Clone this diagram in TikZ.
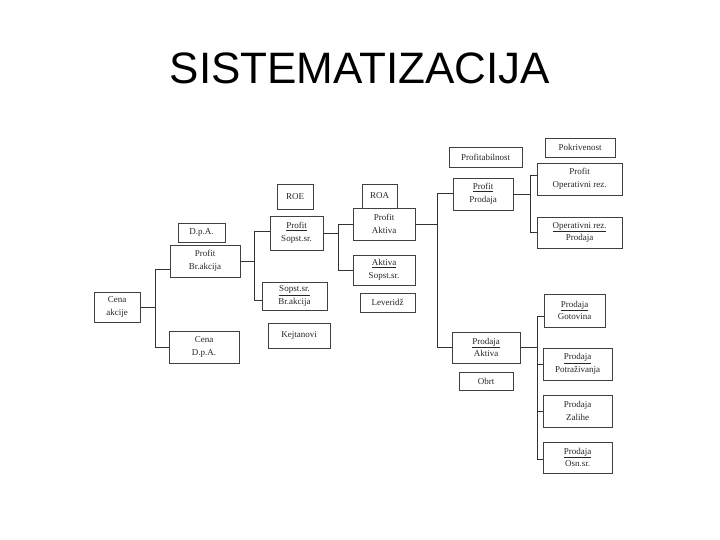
\documentclass[tikz,border=0pt]{standalone}
\usepackage{fontspec}
\setmainfont{Liberation Serif}
\newfontfamily\titlefont{Liberation Sans}
\begin{document}
\begin{tikzpicture}[x=1pt,y=-1pt,
  bx/.style={draw=black!75, line width=0.7pt, align=center, inner sep=0pt,
    font=\fontsize{9}{12.5}\selectfont, text=black!85},
  ln/.style={draw=black!80, line width=0.8pt}]
\useasboundingbox (0,0) rectangle (720,540);
\node[font=\titlefont\fontsize{44}{48}\selectfont] (title) at (360,68) {SISTEMATIZACIJA};

% column 1
\node[bx, minimum width=46pt, minimum height=30pt] (cena) at (117,307) {Cena\\akcije};
% column 2
\node[bx, minimum width=47pt, minimum height=19pt] (dpa) at (201.5,232.5) {D.p.A.};
\node[bx, minimum width=70pt, minimum height=32pt] (pba) at (205,261) {Profit\\Br.akcija};
\node[bx, minimum width=70pt, minimum height=32pt] (cdpa) at (204,347) {Cena\\D.p.A.};
% column 3
\node[bx, minimum width=36pt, minimum height=25pt] (roe) at (295,196.5) {ROE};
\node[bx, minimum width=53pt, minimum height=34pt] (pss) at (296.5,233) {\underline{Profit}\\Sopst.sr.};
\node[bx, minimum width=65pt, minimum height=28pt] (sbr) at (294.5,296) {\underline{Sopst.sr.}\\Br.akcija};
\node[bx, minimum width=62pt, minimum height=25pt] (kej) at (299,335.5) {Kejtanovi};
% column 4
\node[bx, minimum width=35pt, minimum height=24pt] (roa) at (379.5,196) {ROA};
\node[bx, minimum width=62pt, minimum height=32pt] (pak) at (384,224) {Profit\\Aktiva};
\node[bx, minimum width=62pt, minimum height=30pt] (ass) at (384,270) {\underline{Aktiva}\\Sopst.sr.};
\node[bx, minimum width=55pt, minimum height=19pt] (lev) at (387.5,302.5) {Leveridž};
% column 5
\node[bx, minimum width=73pt, minimum height=20pt] (prof) at (485.5,157) {Profitabilnost};
\node[bx, minimum width=60pt, minimum height=32pt] (ppr) at (483,194) {\underline{Profit}\\Prodaja};
\node[bx, minimum width=68pt, minimum height=31pt] (pakt) at (486,347.5) {\underline{Prodaja}\\Aktiva};
\node[bx, minimum width=54pt, minimum height=18pt] (obrt) at (486,381) {Obrt};
% column 6
\node[bx, minimum width=70pt, minimum height=19pt] (pok) at (580,147.5) {Pokrivenost};
\node[bx, minimum width=85pt, minimum height=32pt] (por) at (579.5,179) {Profit\\Operativni rez.};
\node[bx, minimum width=85pt, minimum height=31pt] (orp) at (579.5,232.5) {\underline{Operativni rez.}\\Prodaja};
\node[bx, minimum width=61pt, minimum height=33pt] (pgot) at (574.5,310.5) {\underline{Prodaja}\\Gotovina};
\node[bx, minimum width=69pt, minimum height=32pt] (ppot) at (577.5,364) {\underline{Prodaja}\\Potraživanja};
\node[bx, minimum width=69pt, minimum height=32pt] (pzal) at (577.5,411) {Prodaja\\Zalihe};
\node[bx, minimum width=69pt, minimum height=31pt] (posn) at (577.5,457.5) {\underline{Prodaja}\\Osn.sr.};

% bus coordinates
\coordinate (b1) at (155,307);
\coordinate (b2) at (254,261);
\coordinate (b3) at (338,233);
\coordinate (b4) at (437,224);
\coordinate (b5) at (530,194);
\coordinate (b6) at (537,347.5);

% connectors
\draw[ln] (cena.east) -- (b1);
\draw[ln] (b1) |- ([yshift=-8pt]pba.west);
\draw[ln] (b1) |- (cdpa.west);

\draw[ln] (pba.east) -- (b2);
\draw[ln] (b2) |- ([yshift=2pt]pss.west);
\draw[ln] (b2) |- ([yshift=-4pt]sbr.west);

\draw[ln] (pss.east) -- (b3);
\draw[ln] (b3) |- (pak.west);
\draw[ln] (b3) |- (ass.west);

\draw[ln] (pak.east) -- (b4);
\draw[ln] (b4) |- ([yshift=1pt]ppr.west);
\draw[ln] (b4) |- (pakt.west);

\draw[ln] (ppr.east) -- (b5);
\draw[ln] (b5) |- ([yshift=4pt]por.west);
\draw[ln] (b5) |- (orp.west);

\draw[ln] (pakt.east) -- (b6);
\draw[ln] (b6) |- ([yshift=-6pt]pgot.west);
\draw[ln] (b6) |- (ppot.west);
\draw[ln] (b6) |- (pzal.west);
\draw[ln] (b6) |- ([yshift=-2pt]posn.west);
\end{tikzpicture}
\end{document}
